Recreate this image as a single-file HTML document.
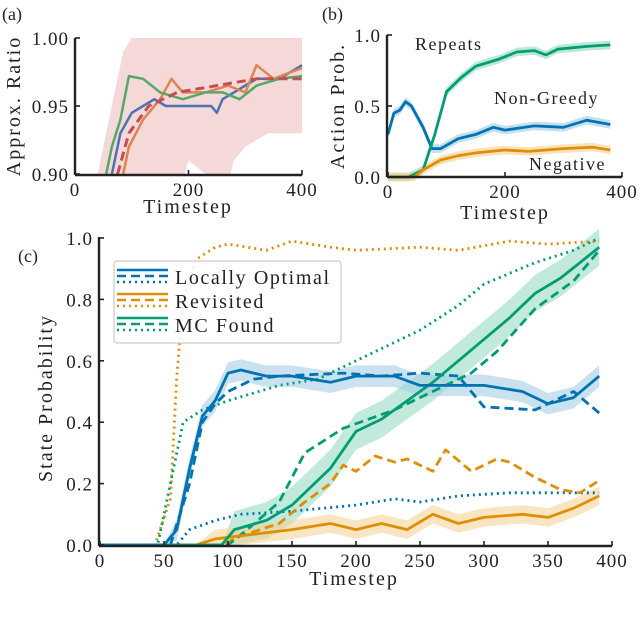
<!DOCTYPE html>
<html><head><meta charset="utf-8"><style>
body{margin:0;background:#fff}
svg{display:block}
text{font-family:"Liberation Serif",serif;fill:#222}
</style></head><body>
<svg id="fig" width="640" height="621" viewBox="0 0 640 621" xmlns="http://www.w3.org/2000/svg"></svg>
<script>
// ---------- Panel (a) data ----------
const aBlueX=[65,80,100,120,140,160,200,240,250,260,280,320,360,400];
const aBlueY=[0.90,0.93,0.945,0.95,0.955,0.95,0.95,0.95,0.945,0.955,0.96,0.97,0.97,0.98];
const aOrangeX=[85,95,120,150,170,190,230,270,300,320,350,400];
const aOrangeY=[0.90,0.92,0.94,0.955,0.97,0.96,0.96,0.965,0.96,0.98,0.97,0.978];
const aGreenX=[55,65,80,95,120,150,190,230,260,290,320,360,400];
const aGreenY=[0.90,0.92,0.94,0.972,0.97,0.96,0.955,0.96,0.96,0.955,0.965,0.97,0.972];
const aMeanX=[75,95,130,180,250,320,400];
const aMeanY=[0.90,0.93,0.95,0.96,0.965,0.97,0.97];
const aBandX=[40,60,85,100,180,200,230,260,280,300,340,400];
const aBandUp=[0.90,0.94,0.99,1.0,1.0,1.0,1.0,1.0,1.0,1.0,1.0,1.0];
const aBandLo=[0.88,0.88,0.88,0.88,0.88,0.91,0.90,0.88,0.91,0.92,0.93,0.93];
const aXTicks=[0,200,400];
const aYTicks=[0.90,0.95,1.00];
const aYLabels=["0.90","0.95","1.00"];

// ---------- Panel (b) data ----------
const bBlueX=[0,10,20,30,40,60,75,90,120,150,180,200,250,300,340,380];
const bBlueY=[0.3,0.45,0.47,0.53,0.5,0.35,0.2,0.2,0.27,0.3,0.35,0.33,0.36,0.35,0.4,0.37];
const bGreenX=[0,35,60,80,100,125,150,190,220,250,270,290,340,380];
const bGreenY=[0,0,0.05,0.3,0.6,0.7,0.78,0.83,0.88,0.89,0.86,0.9,0.92,0.93];
const bOrangeX=[0,45,60,90,120,150,200,240,300,350,380];
const bOrangeY=[0,0,0.05,0.12,0.15,0.17,0.19,0.18,0.2,0.21,0.19];
const bXTicks=[0,200,400];
const bYTicks=[0,0.5,1.0];
const bYLabels=["0.0","0.5","1.0"];

// ---------- Panel (c) data ----------
const cBlueSolidX=[0,50,60,70,80,90,100,110,130,150,180,200,230,250,270,300,330,350,370,390];
const cBlueSolidY=[0,0,0.05,0.25,0.42,0.47,0.56,0.57,0.55,0.55,0.53,0.55,0.55,0.52,0.52,0.52,0.5,0.46,0.48,0.55];
const cBlueDashX=[0,55,70,80,90,100,120,140,190,220,250,280,300,340,370,390];
const cBlueDashY=[0,0,0.2,0.4,0.46,0.5,0.54,0.55,0.56,0.55,0.56,0.55,0.45,0.44,0.5,0.43];
const cBlueDotX=[0,60,70,90,110,150,200,230,250,280,320,390];
const cBlueDotY=[0,0,0.05,0.08,0.1,0.11,0.13,0.15,0.14,0.16,0.17,0.17];
const cOrangeSolidX=[0,75,90,110,150,180,200,220,240,260,280,300,330,350,370,390];
const cOrangeSolidY=[0,0,0.02,0.03,0.05,0.07,0.05,0.07,0.05,0.1,0.07,0.09,0.1,0.09,0.12,0.16];
const cOrangeDashX=[0,95,110,140,160,180,190,200,215,230,240,260,270,290,310,320,340,360,375,390];
const cOrangeDashY=[0,0,0.03,0.07,0.14,0.2,0.26,0.24,0.29,0.27,0.28,0.24,0.31,0.24,0.28,0.27,0.22,0.18,0.17,0.21];
const cOrangeDotX=[0,43,55,60,65,75,90,100,130,150,180,200,250,280,320,350,390];
const cOrangeDotY=[0,0,0.15,0.55,0.8,0.93,0.97,0.98,0.96,0.99,0.97,0.96,0.97,0.96,0.99,0.98,0.99];
const cGreenSolidX=[0,95,105,130,150,180,200,220,240,260,280,300,320,340,360,375,390];
const cGreenSolidY=[0,0,0.05,0.08,0.13,0.25,0.37,0.41,0.47,0.53,0.6,0.67,0.74,0.82,0.87,0.92,0.97];
const cGreenDashX=[0,100,115,140,160,190,230,260,290,310,340,370,390];
const cGreenDashY=[0,0,0.05,0.14,0.3,0.38,0.44,0.5,0.56,0.63,0.77,0.86,0.96];
const cGreenDotX=[0,45,55,65,80,100,140,170,200,250,280,300,340,370,390];
const cGreenDotY=[0,0,0.2,0.4,0.44,0.47,0.52,0.54,0.6,0.7,0.78,0.85,0.92,0.96,1.0];
const cSpread=[0.035,0.03,0.06]; // band half-width: blue, orange, green
const cXTicks=[0,50,100,150,200,250,300,350,400];
const cYTicks=[0,0.2,0.4,0.6,0.8,1.0];
const cYLabels=["0.0","0.2","0.4","0.6","0.8","1.0"];

const NS="http://www.w3.org/2000/svg";
const svg=document.getElementById('fig');
function mk(tag,attrs,parent){const e=document.createElementNS(NS,tag);for(const k in attrs)e.setAttribute(k,attrs[k]);(parent||svg).appendChild(e);return e;}
function scale(d0,d1,r0,r1){return v=>r0+(v-d0)/(d1-d0)*(r1-r0);}
function pts(xs,ys,sx,sy){return xs.map((x,i)=>sx(x).toFixed(1)+','+sy(ys[i]).toFixed(1)).join(' ');}
function line(g,xs,ys,sx,sy,color,w,dash,name){
  const p=mk('polyline',{points:pts(xs,ys,sx,sy),fill:'none',stroke:color,'stroke-width':w,'stroke-linejoin':'round'},g);
  if(dash)p.setAttribute('stroke-dasharray',dash);
  
  
  return p;
}
function band(g,xs,lo,hi,sx,sy,color,op,name){
  const top=xs.map((x,i)=>sx(x).toFixed(1)+','+sy(hi[i]).toFixed(1));
  const bot=xs.map((x,i)=>sx(x).toFixed(1)+','+sy(lo[i]).toFixed(1)).reverse();
  const p=mk('polygon',{points:top.concat(bot).join(' '),fill:color,'fill-opacity':op},g);
  
  
}
function txt(g,x,y,s,size,anchor,name,extra){
  const t=mk('text',Object.assign({x:x,y:y,'font-size':size,'text-anchor':anchor||'start'},extra||{}),g);
  t.textContent=s;
  
  
  return t;
}
const TICK={'letter-spacing':'1'};
const TITLE={'letter-spacing':'2'};
function axes(g,x0,x1,y0,y1,sx,sy,xt,xl,yt,yl,fs,name){
  const a=mk('g',{},g);
  
  
  mk('line',{x1:x0,y1:y0,x2:x1,y2:y0,stroke:'#222','stroke-width':2.4},a);
  mk('line',{x1:x0,y1:y0,x2:x0,y2:y1,stroke:'#222','stroke-width':2.4},a);
  xt.forEach((v,i)=>{mk('line',{x1:sx(v),y1:y0,x2:sx(v),y2:y0-5,stroke:'#222','stroke-width':1.6},a);
    txt(a,sx(v),y0+21,xl[i],fs,'middle',name+'-x-tick-label',TICK);});
  yt.forEach((v,i)=>{mk('line',{x1:x0,y1:sy(v),x2:x0+5,y2:sy(v),stroke:'#222','stroke-width':1.6},a);
    txt(a,x0-6,sy(v)+7,yl[i],fs,'end',name+'-y-tick-label',TICK);});
}

// ----- Panel (a) -----
{
 const g=mk('g',{});
 
 
 const sx=scale(0,400,75,302), sy=scale(0.90,1.0,174,38);
 const clip=mk('clipPath',{id:'ca'},g); mk('rect',{x:75,y:37,width:228,height:138},clip);
 const p=mk('g',{'clip-path':'url(#ca)'},g);
 band(p,aBandX,aBandLo,aBandUp,sx,sy,'#e8a8a8',0.45,'band-a');
 line(p,aBlueX,aBlueY,sx,sy,'#4c72b0',2.5,null,'line-a-blue');
 line(p,aOrangeX,aOrangeY,sx,sy,'#dd8452',2.5,null,'line-a-orange');
 line(p,aGreenX,aGreenY,sx,sy,'#55a868',2.5,null,'line-a-green');
 line(p,aMeanX,aMeanY,sx,sy,'#c44e52',3,'9,5','line-a-mean');
 axes(g,75,302,175,38,sx,sy,aXTicks,aXTicks.map(String),aYTicks,aYLabels,19,'panel-a');
 txt(g,2,20,'(a)',18,'start','panel-a-label');
 txt(g,188,213,'Timestep',20,'middle','panel-a-x-title',TITLE);
 txt(g,20,106,'Approx. Ratio',20,'middle','panel-a-y-title',{transform:'rotate(-90 20 106)','letter-spacing':'2'});
}
// ----- Panel (b) -----
{
 const g=mk('g',{});
 
 
 const sx=scale(0,400,388,622), sy=scale(0,1,177,35);
 const sp=0.03;
 band(g,bBlueX,bBlueY.map(v=>v-sp),bBlueY.map(v=>v+sp),sx,sy,'#9ecae1',0.6,'band-b-blue');
 band(g,bGreenX,bGreenY.map(v=>v-sp),bGreenY.map(v=>v+sp),sx,sy,'#8fd8c0',0.6,'band-b-green');
 band(g,bOrangeX,bOrangeY.map(v=>v-sp),bOrangeY.map(v=>v+sp),sx,sy,'#f5cf90',0.6,'band-b-orange');
 line(g,bBlueX,bBlueY,sx,sy,'#0173b2',2.8,null,'line-b-non-greedy');
 line(g,bGreenX,bGreenY,sx,sy,'#029e73',2.8,null,'line-b-repeats');
 line(g,bOrangeX,bOrangeY,sx,sy,'#de8f05',2.8,null,'line-b-negative');
 axes(g,387,622,177,35,sx,sy,bXTicks,bXTicks.map(String),bYTicks,bYLabels,19,'panel-b');
 txt(g,322,20,'(b)',18,'start','panel-b-label');
 txt(g,415,50,'Repeats',18,'start','label-repeats',{'letter-spacing':'1.5'});
 txt(g,494,104,'Non-Greedy',18,'start','label-non-greedy',{'letter-spacing':'1.5'});
 txt(g,529,170,'Negative',18,'start','label-negative',{'letter-spacing':'1.5'});
 txt(g,505,219,'Timestep',20,'middle','panel-b-x-title',TITLE);
 txt(g,344,106,'Action Prob.',20,'middle','panel-b-y-title',{transform:'rotate(-90 344 106)','letter-spacing':'2'});
}
// ----- Panel (c) -----
{
 const g=mk('g',{});
 
 
 const sx=scale(0,400,100,612), sy=scale(0,1,545,238);
 const B='#0173b2',O='#de8f05',G='#029e73';
 band(g,cGreenSolidX,cGreenSolidY.map(v=>Math.max(0,v-cSpread[2])),cGreenSolidY.map(v=>v>0?v+cSpread[2]:0),sx,sy,'#8fd8c0',0.55,'band-c-green');
 band(g,cBlueSolidX,cBlueSolidY.map(v=>Math.max(0,v-cSpread[0])),cBlueSolidY.map(v=>v>0?v+cSpread[0]:0),sx,sy,'#9ecae1',0.55,'band-c-blue');
 band(g,cOrangeSolidX,cOrangeSolidY.map(v=>Math.max(0,v-cSpread[1])),cOrangeSolidY.map(v=>v>0?v+cSpread[1]:0),sx,sy,'#f5cf90',0.55,'band-c-orange');
 line(g,cOrangeDotX,cOrangeDotY,sx,sy,O,2.8,'2,4','line-c-revisited-dotted');
 line(g,cGreenDotX,cGreenDotY,sx,sy,G,2.8,'2,4','line-c-mc-found-dotted');
 line(g,cBlueDotX,cBlueDotY,sx,sy,B,2.8,'2,4','line-c-locally-optimal-dotted');
 line(g,cOrangeDashX,cOrangeDashY,sx,sy,O,2.8,'9,5','line-c-revisited-dashed');
 line(g,cGreenDashX,cGreenDashY,sx,sy,G,2.8,'9,5','line-c-mc-found-dashed');
 line(g,cBlueDashX,cBlueDashY,sx,sy,B,2.8,'9,5','line-c-locally-optimal-dashed');
 line(g,cOrangeSolidX,cOrangeSolidY,sx,sy,O,2.8,null,'line-c-revisited-solid');
 line(g,cGreenSolidX,cGreenSolidY,sx,sy,G,2.8,null,'line-c-mc-found-solid');
 line(g,cBlueSolidX,cBlueSolidY,sx,sy,B,2.8,null,'line-c-locally-optimal-solid');
 axes(g,99,612,546,237,sx,sy,cXTicks,cXTicks.map(String),cYTicks,cYLabels,19,'panel-c');
 txt(g,18,262,'(c)',18,'start','panel-c-label');
 txt(g,354,585,'Timestep',20,'middle','panel-c-x-title',TITLE);
 txt(g,52,398,'State Probability',20,'middle','panel-c-y-title',{transform:'rotate(-90 52 398)','letter-spacing':'2'});
 // legend
 const L=mk('g',{},g);
 
 
 mk('rect',{x:114,y:261,width:227,height:82,rx:3,fill:'#fff','fill-opacity':0.85,stroke:'#ccc','stroke-width':1.2},L);
 const names=['Locally Optimal','Revisited','MC Found'], cols=[B,O,G];
 names.forEach((n,i)=>{
  const e=mk('g',{},L);
  
  
  const y=270+i*24;
  mk('line',{x1:117,y1:y,x2:168,y2:y,stroke:cols[i],'stroke-width':2.5},e);
  mk('line',{x1:117,y1:y+6,x2:168,y2:y+6,stroke:cols[i],'stroke-width':2.5,'stroke-dasharray':'9,5'},e);
  mk('line',{x1:117,y1:y+12,x2:168,y2:y+12,stroke:cols[i],'stroke-width':2.5,'stroke-dasharray':'2,4'},e);
  txt(e,175,y+14,n,20,'start','legend-label',{'letter-spacing':'1.6'});
 });
}
</script>
</body></html>
